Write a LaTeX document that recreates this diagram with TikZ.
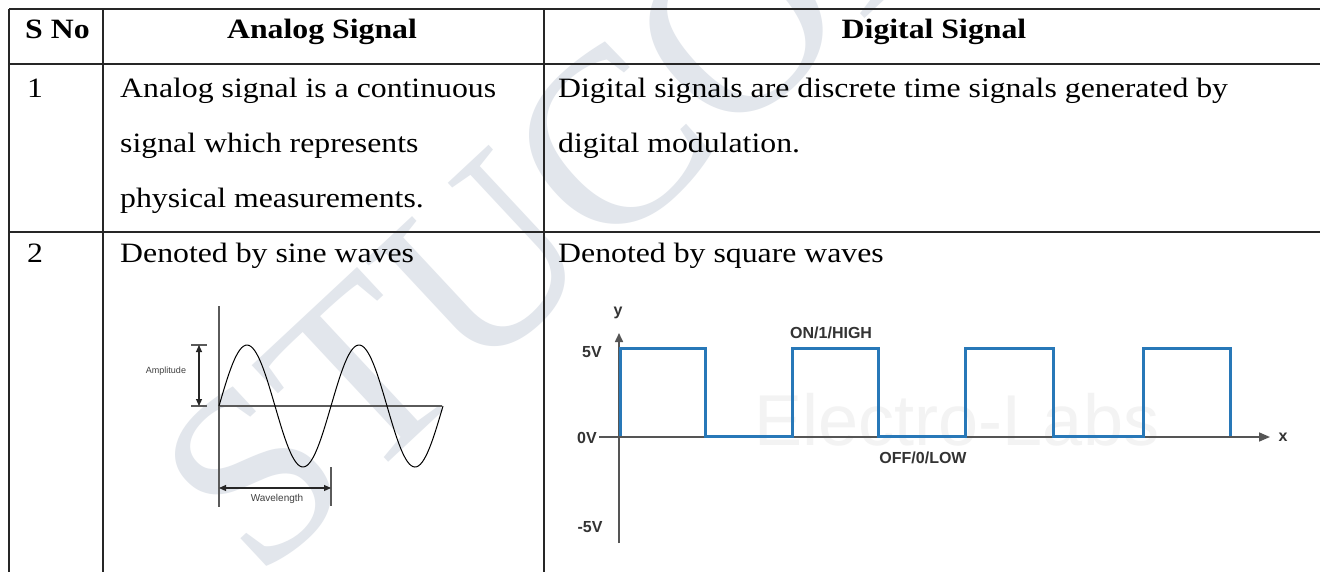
\documentclass[tikz,border=0pt]{standalone}
\usepackage{fontspec}
\setmainfont{Liberation Serif}[FakeStretch=1.135]
\newfontfamily\wmfont{Liberation Serif}
\newfontfamily\arialfont{Liberation Sans}
\usetikzlibrary{arrows.meta}
\definecolor{wm}{RGB}{226,230,236}
\definecolor{elwm}{RGB}{243,243,243}
\definecolor{sqblue}{RGB}{40,120,184}
\definecolor{axisgray}{RGB}{85,85,85}
\definecolor{sinegray}{RGB}{90,90,90}
\begin{document}
\begin{tikzpicture}[x=1pt,y=-1pt,
  tabline/.style={line width=1.6pt, draw=black!85},
  cell/.style={anchor=base west, inner sep=0pt, font=\fontsize{28}{28}\selectfont},
  headcell/.style={anchor=base, inner sep=0pt, font=\fontsize{28}{28}\selectfont\bfseries},
  sqaxis/.style={draw=axisgray, line width=1.6pt},
  sqlbl/.style={inner sep=0pt, text=black!80, font=\arialfont\bfseries\fontsize{16}{16}\selectfont},
  sinaxis/.style={draw=sinegray, line width=1.1pt},
  dimarrow/.style={draw=black!85, line width=1.1pt, {Triangle[length=7pt,width=6pt]}-{Triangle[length=7pt,width=6pt]}},
  tinylbl/.style={inner sep=0pt, text=black!75, font=\arialfont\fontsize{9}{9}\selectfont},
  wave/.style={draw=sqblue, line width=3pt, line join=miter}
]
\useasboundingbox (0,0) rectangle (1320,571);
\clip (0,0) rectangle (1320,571);
\fill[white] (0,0) rectangle (1320,571);

% watermarks
\node[rotate=43, text=wm, inner sep=0pt, font=\wmfont\fontsize{250}{250}\selectfont] (wmark) at (564,187) {STUCOR};
\node[text=elwm, inner sep=0pt, font=\arialfont\fontsize{72}{72}\selectfont] (elwmark) at (957,420) {Electro-Labs};

% table grid
\draw[tabline] (9,9) -- (1330,9);
\draw[tabline] (9,64) -- (1330,64);
\draw[tabline] (9,232) -- (1330,232);
\draw[tabline] (9,9) -- (9,580);
\draw[tabline] (103,9) -- (103,580);
\draw[tabline] (544,9) -- (544,580);

% header
\node[cell, font=\fontsize{28}{28}\selectfont\bfseries] (hsno) at (25,38) {S No};
\node[headcell] (hana) at (322,38) {Analog Signal};
\node[headcell] (hdig) at (934,38) {Digital Signal};

% row 1
\node[cell] (r1no) at (27,97) {1};
\node[cell] (r1a1) at (120,97) {Analog signal is a continuous};
\node[cell] (r1a2) at (120,152) {signal which represents};
\node[cell] (r1a3) at (120,207) {physical measurements.};
\node[cell] (r1d1) at (558,97) {Digital signals are discrete time signals generated by};
\node[cell] (r1d2) at (558,152) {digital modulation.};

% row 2
\node[cell] (r2no) at (27,262) {2};
\node[cell] (r2a) at (120,262) {Denoted by sine waves};
\node[cell] (r2d) at (558,262) {Denoted by square waves};

% sine wave figure
\coordinate (sv0) at (219,306);
\coordinate (sv1) at (219,507);
\coordinate (sh0) at (219,406);
\coordinate (sh1) at (442,406);
\draw[sinaxis] (sv0) -- (sv1);
\draw[sinaxis] (sh0) -- (sh1);
\draw[black, line width=1pt] plot[domain=0:224, samples=120, smooth] ({219+\x},{406-61*sin(\x*3.2142857)});
% amplitude
\coordinate (at0) at (191,345);
\coordinate (at1) at (207,345);
\coordinate (ab0) at (191,406);
\coordinate (ab1) at (207,406);
\coordinate (atop) at (199,345);
\coordinate (abot) at (199,406);
\draw[sinaxis] (at0) -- (at1);
\draw[sinaxis] (ab0) -- (ab1);
\draw[dimarrow] (atop) -- (abot);
\node[tinylbl] (amp) at (166,371) {Amplitude};
% wavelength
\coordinate (wl0) at (219,488);
\coordinate (wl1) at (331,488);
\coordinate (wt0) at (331,467);
\coordinate (wt1) at (331,506);
\draw[sinaxis] (wt0) -- (wt1);
\draw[dimarrow] (wl0) -- (wl1);
\node[tinylbl, font=\arialfont\fontsize{10}{10}\selectfont] (wave) at (277,499) {Wavelength};

% square wave figure
\coordinate (ya) at (619,543);
\coordinate (yb) at (619,333);
\coordinate (xa) at (599,437);
\coordinate (xb) at (1270,437);
\draw[sqaxis, -{Triangle[length=9pt,width=8pt]}] (ya) -- (yb);
\draw[sqaxis, -{Triangle[length=11pt,width=9pt]}] (xa) -- (xb);
\draw[wave] (620,436) -- (620,348) -- (705,348) -- (705,436) -- (792,436) -- (792,348) -- (878,348) -- (878,436)
  -- (965,436) -- (965,348) -- (1053,348) -- (1053,436) -- (1143,436) -- (1143,348) -- (1230,348) -- (1230,436);
\node[sqlbl] (ylbl) at (618,313) {y};
\node[sqlbl] (xlbl) at (1283,437) {x};
\node[sqlbl] (v5) at (592,352) {5V};
\node[sqlbl] (v0) at (587,438) {0V};
\node[sqlbl] (vm5) at (590,527) {-5V};
\node[sqlbl, anchor=west] (on) at (790,333) {ON/1/HIGH};
\node[sqlbl] (off) at (923,458) {OFF/0/LOW};
\end{tikzpicture}
\end{document}
